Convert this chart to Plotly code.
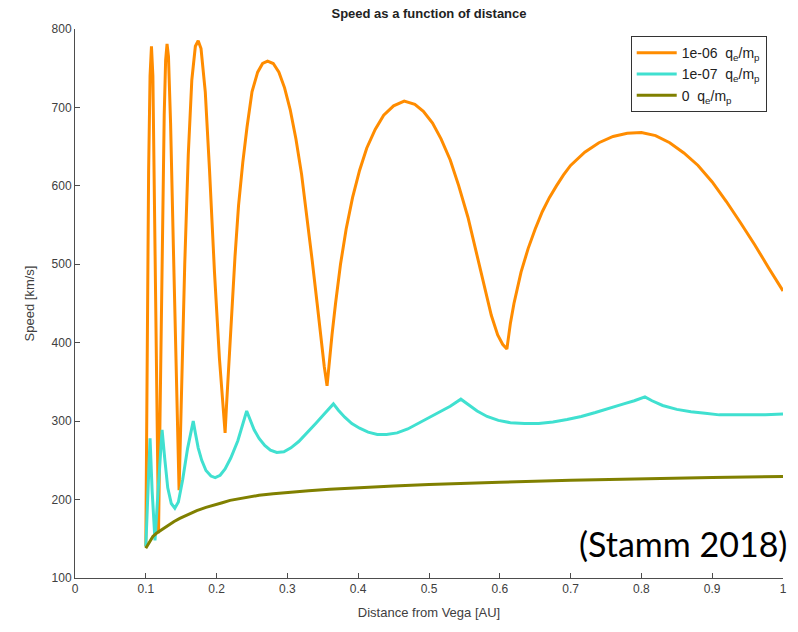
import plotly.graph_objects as go

# ---- data ----
orange_x = [0.100, 0.102, 0.104, 0.106, 0.108, 0.110, 0.112, 0.114, 0.116, 0.118,
            0.120, 0.123, 0.126, 0.128, 0.130, 0.132, 0.135, 0.139, 0.143, 0.147,
            0.150, 0.155, 0.160, 0.165, 0.170, 0.174, 0.178, 0.184, 0.190, 0.197, 0.204, 0.212,
            0.214, 0.217, 0.221, 0.226, 0.231, 0.237, 0.243, 0.250, 0.258, 0.265, 0.272,
            0.280, 0.288, 0.296, 0.304, 0.312, 0.320, 0.328, 0.335, 0.342, 0.348, 0.352, 0.356,
            0.359, 0.363, 0.368, 0.375, 0.383, 0.392, 0.402, 0.412, 0.424, 0.436, 0.450, 0.465,
            0.480, 0.492, 0.505, 0.517, 0.530, 0.542, 0.555, 0.567, 0.578, 0.588, 0.597, 0.604, 0.610,
            0.615, 0.620, 0.630, 0.640, 0.650, 0.660, 0.670, 0.680, 0.690, 0.700, 0.720, 0.740,
            0.760, 0.780, 0.800,
            0.820, 0.840, 0.860, 0.880, 0.900, 0.920, 0.940, 0.960, 0.980, 1.000]
orange_v = [140, 400, 620, 740, 778, 740, 600, 420, 260, 157,
            300, 520, 690, 760, 781, 765, 680, 520, 350, 212,
            320, 500, 640, 735, 778, 785, 775, 720, 620, 490, 380, 285,
            320, 370, 440, 510, 575, 630, 675, 720, 745, 756, 759,
            756, 745, 725, 697, 660, 615, 560, 505, 450, 400, 370, 345,
            375, 410, 450, 500, 545, 585, 620, 648, 672, 690, 702, 708,
            704, 695, 680, 660, 633, 600, 560, 515, 470, 435, 410, 398, 392,
            425, 450, 490, 520, 545, 567, 585, 600, 614, 626, 643, 655,
            663, 667, 668,
            664, 655, 642, 626, 605, 580, 553, 525, 495, 466]

cyan_x = [0.100, 0.103, 0.106, 0.109, 0.113, 0.118, 0.123,
          0.127, 0.131, 0.136, 0.141, 0.146, 0.152, 0.159, 0.167,
          0.170, 0.174, 0.179, 0.185, 0.192, 0.198, 0.205, 0.212, 0.220, 0.230, 0.2425,
          0.247, 0.253, 0.260, 0.268, 0.276, 0.285, 0.295, 0.305, 0.316, 0.328, 0.340, 0.352, 0.365,
          0.372, 0.381, 0.391, 0.402, 0.414, 0.427, 0.440, 0.455, 0.470, 0.485, 0.500, 0.515, 0.530, 0.545,
          0.555, 0.568, 0.582, 0.598, 0.615, 0.635, 0.655, 0.675, 0.695, 0.715, 0.735, 0.755, 0.775, 0.790, 0.805,
          0.815, 0.830, 0.850, 0.870, 0.890, 0.910, 0.930, 0.950, 0.975, 1.000]
cyan_v = [140, 220, 278, 210, 148, 220, 289,
          250, 215, 195, 189, 197, 225, 265, 300,
          285, 266, 250, 237, 230, 228, 231, 239, 253, 275, 313,
          302, 289, 278, 269, 263, 260, 261, 266, 274, 285, 297, 309, 322,
          314, 305, 297, 291, 286, 283, 283, 285, 290, 297, 304, 311, 319, 328,
          321, 313, 306, 301, 298, 297, 297, 299, 302, 306, 311, 316, 322, 326, 331,
          326, 320, 315, 312, 310, 308, 308, 308, 308, 309]

olive_x = [0.100, 0.103, 0.106, 0.110, 0.115, 0.120, 0.125, 0.132, 0.140, 0.148, 0.160,
           0.172, 0.185, 0.195, 0.208, 0.219, 0.2425, 0.260,
           0.280, 0.300, 0.330, 0.360, 0.400, 0.450, 0.500, 0.550, 0.600, 0.700, 0.800, 0.900, 1.000]
olive_v = [138, 143, 148, 153, 157, 160, 163, 168, 172, 176, 181,
           186, 190, 193, 196, 199, 203, 205.5,
           207.5, 209.2, 211.3, 213.2, 215.3, 217.4, 219.2, 220.8, 222.2, 224.5, 226.5, 228.2, 229.5]

series_names = ["1e-06  q<sub>e</sub>/m<sub>p</sub>",
                "1e-07  q<sub>e</sub>/m<sub>p</sub>",
                "0  q<sub>e</sub>/m<sub>p</sub>"]
series_colors = ["#FF8C00", "#40E0D0", "#808000"]

x_ticks = [0, 0.1, 0.2, 0.3, 0.4, 0.5, 0.6, 0.7, 0.8, 0.9, 1]
x_tick_labels = ["0", "0.1", "0.2", "0.3", "0.4", "0.5", "0.6", "0.7", "0.8", "0.9", "1"]
y_ticks = [100, 200, 300, 400, 500, 600, 700, 800]

fig = go.Figure()
for xs, vs, name, col in zip([orange_x, cyan_x, olive_x],
                             [orange_v, cyan_v, olive_v],
                             series_names, series_colors):
    fig.add_trace(go.Scatter(x=xs, y=vs, mode="lines", name=name,
                             line=dict(color=col, width=3)))

axis_col = "#4d4d4d"
fig.update_layout(
    width=798, height=632,
    margin=dict(l=75, r=15, t=29, b=54),
    paper_bgcolor="white", plot_bgcolor="white",
    font=dict(family="Liberation Sans, Arial, sans-serif", size=12, color="#404040"),
    title=dict(text="<b>Speed as a function of distance</b>", x=(429) / 798, xanchor="center",
               y=1 - 13 / 632, yanchor="middle",
               font=dict(size=13, color="#222222")),
    showlegend=True,
    legend=dict(x=0.977, xanchor="right", y=0.987, yanchor="top",
                bgcolor="white", bordercolor="#333333", borderwidth=1,
                font=dict(size=14, color="#222222"),
                tracegroupgap=0, itemwidth=40),
    xaxis=dict(range=[0, 1], tickvals=x_ticks, ticktext=x_tick_labels,
               showgrid=False, zeroline=False, showline=True, linecolor=axis_col,
               linewidth=1, ticks="inside", ticklen=5, tickcolor=axis_col,
               title=dict(text="Distance from Vega [AU]", standoff=12,
                          font=dict(size=13, color="#404040"))),
    yaxis=dict(range=[100, 800], tickvals=y_ticks,
               showgrid=False, zeroline=False, showline=True, linecolor=axis_col,
               linewidth=1, ticks="inside", ticklen=5, tickcolor=axis_col,
               title=dict(text="Speed [km/s]", standoff=14,
                          font=dict(size=13, color="#404040"))),
)

fig.add_annotation(text="(Stamm 2018)", xref="paper", yref="paper",
                   x=(789 - 75) / 708, xanchor="right",
                   y=(578 - 543) / 549, yanchor="middle",
                   showarrow=False,
                   font=dict(family="Lato, Open Sans, sans-serif", size=34, color="black"))

fig.write_html("out.html")
